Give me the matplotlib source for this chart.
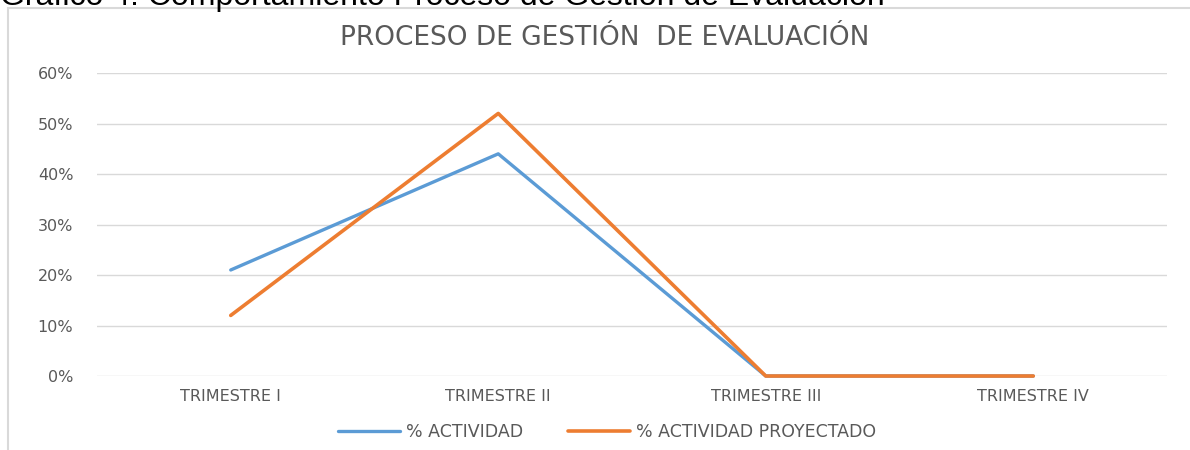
import matplotlib.pyplot as plt
from matplotlib.patches import Rectangle
from matplotlib.ticker import PercentFormatter

plt.rcParams['font.family'] = ['DejaVu Sans']

# datos
trimestres = ['TRIMESTRE I', 'TRIMESTRE II', 'TRIMESTRE III', 'TRIMESTRE IV']
actividad = [0.21, 0.44, 0.0, 0.0]
proyectado = [0.12, 0.52, 0.0, 0.0]
yticks = [0.0, 0.1, 0.2, 0.3, 0.4, 0.5, 0.6]

azul = '#5B9BD5'
naranja = '#ED7D31'
gris = '#595959'

fig = plt.figure(figsize=(11.9, 4.5), dpi=100)
ax = fig.add_axes([0.0815, 0.1644, 0.8992, 0.6733])

x = range(len(trimestres))
ax.plot(x, actividad, color=azul, linewidth=2.4, label='% ACTIVIDAD',
        solid_capstyle='round', zorder=3, clip_on=False)
ax.plot(x, proyectado, color=naranja, linewidth=2.6, label='% ACTIVIDAD PROYECTADO',
        solid_capstyle='round', zorder=4, clip_on=False)

ax.set_xlim(-0.5, len(trimestres) - 0.5)
ax.set_ylim(0, 0.6)
ax.set_yticks(yticks)
ax.yaxis.set_major_formatter(PercentFormatter(1.0, decimals=0))
ax.set_xticks(list(x))
ax.set_xticklabels(trimestres)
ax.tick_params(length=0, labelsize=11.5, colors=gris, pad=9)
ax.tick_params(axis='y', pad=17)
ax.grid(True, axis='y', color='#D9D9D9', linewidth=1)
ax.set_axisbelow(True)
for s in ax.spines.values():
    s.set_visible(False)

fig.text(0.508, 1 - 38 / 450, 'PROCESO DE GESTIÓN  DE EVALUACIÓN', ha='center',
         va='center', fontsize=19, color=gris)

fig.legend(loc='center', bbox_to_anchor=(0.51, 1 - 432 / 450), ncol=2, frameon=False,
           fontsize=12.5, handlelength=3.6, handletextpad=0.3, columnspacing=2.6,
           labelcolor=gris)

# borde del grafico
fig.patches.append(Rectangle((8 / 1190, -0.1), 1.2, 1 - 8 / 450 + 0.1,
                             transform=fig.transFigure, fill=False,
                             edgecolor='#D9D9D9', linewidth=1.5))

fig.text(0.0, 1 - 5 / 450, 'Gráfico 4. Comportamiento Proceso de Gestión de Evaluación',
         ha='left', va='baseline', fontsize=23, color='black',
         family=['Liberation Sans', 'DejaVu Sans'])

fig.savefig('out.png', dpi=100)
